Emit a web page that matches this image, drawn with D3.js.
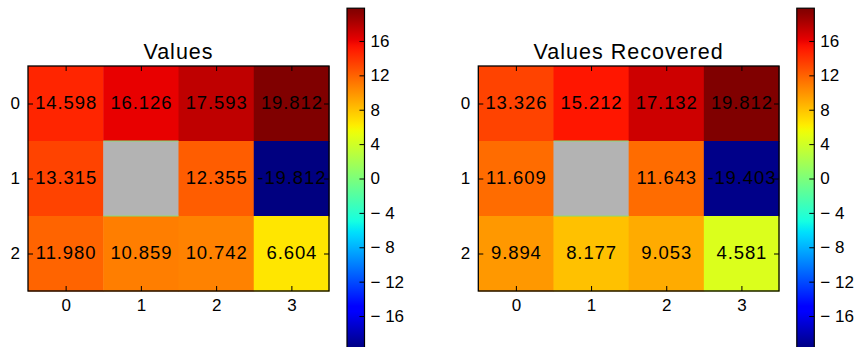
<!DOCTYPE html>
<html>
<head>
<meta charset="utf-8">
<script src="https://cdn.jsdelivr.net/npm/d3@7"></script>
<style>
  html, body { margin: 0; padding: 0; background: #fff; }
  svg { display: block; font-family: "Liberation Sans", Arial, sans-serif; }
</style>
</head>
<body>
<svg id="chart" width="857" height="347"></svg>
<script>
// Grid data (NaN = masked cell)
const rows = [0, 1, 2];
const cols = [0, 1, 2, 3];
const valuesRow0 = [14.598, 16.126, 17.593, 19.812];
const valuesRow1 = [13.315, NaN, 12.355, -19.812];
const valuesRow2 = [11.980, 10.859, 10.742, 6.604];
const recoveredRow0 = [13.326, 15.212, 17.132, 19.812];
const recoveredRow1 = [11.609, NaN, 11.643, -19.403];
const recoveredRow2 = [9.894, 8.177, 9.053, 4.581];
const titles = ["Values", "Values Recovered"];
const colorTicks = [-16, -12, -8, -4, 0, 4, 8, 12, 16];
const vmin = -19.812, vmax = 19.812;

const panels = [
  { title: titles[0], grid: [valuesRow0, valuesRow1, valuesRow2], x0: 28, x1: 329, cb: 347 },
  { title: titles[1], grid: [recoveredRow0, recoveredRow1, recoveredRow2], x0: 478.3, x1: 779, cb: 796.8 }
];

// matplotlib "jet" segment data
const jetR = [[0, 0], [0.35, 0], [0.66, 1], [0.89, 1], [1, 0.5]];
const jetG = [[0, 0], [0.125, 0], [0.375, 1], [0.64, 1], [0.91, 0], [1, 0]];
const jetB = [[0, 0.5], [0.11, 1], [0.34, 1], [0.65, 0], [1, 0]];
const seg = s => d3.scaleLinear().domain(s.map(p => p[0])).range(s.map(p => p[1])).clamp(true);
const sR = seg(jetR), sG = seg(jetG), sB = seg(jetB);
function jet(t) {
  t = Math.max(0, Math.min(1, t));
  t = Math.min(255, Math.floor(t * 256)) / 255; // 256-level lookup table
  return d3.rgb(Math.round(sR(t) * 255), Math.round(sG(t) * 255), Math.round(sB(t) * 255)).formatHex();
}
const norm = d3.scaleLinear().domain([vmin, vmax]).range([0, 1]);
const color = v => jet(norm(v));

const svg = d3.select("#chart");
const yTop = 66, yBot = 291;
const defs = svg.append("defs");

panels.forEach((p, i) => {
  const g = svg.append("g");
  const x = d3.scaleBand().domain(cols).range([p.x0, p.x1]);
  const y = d3.scaleBand().domain(rows).range([yTop, yBot]);

  const cells = [];
  p.grid.forEach((r, ri) => r.forEach((v, ci) => cells.push({ r: ri, c: ci, v })));

  g.selectAll("rect.cell").data(cells).join("rect")
    .attr("class", "cell")
    .attr("x", d => x(d.c)).attr("y", d => y(d.r))
    .attr("width", x.bandwidth() + 0.5).attr("height", y.bandwidth() + 0.5)
    .attr("fill", d => isNaN(d.v) ? "#b3b3b3" : color(d.v));

  // thin edge lines around the masked cell
  cells.filter(d => isNaN(d.v)).forEach(d => {
    [y(d.r), y(d.r) + y.bandwidth()].forEach(yy => {
      g.append("line")
        .attr("x1", x(d.c)).attr("x2", x(d.c) + x.bandwidth())
        .attr("y1", yy).attr("y2", yy)
        .attr("stroke", "#86dc72").attr("stroke-width", 1);
    });
  });

  g.selectAll("text.val").data(cells.filter(d => !isNaN(d.v))).join("text")
    .attr("class", "val")
    .attr("x", d => x(d.c) + x.bandwidth() / 2 + 0.5)
    .attr("y", d => y(d.r) + y.bandwidth() / 2 + 5)
    .attr("text-anchor", "middle")
    .attr("font-size", 18.5).attr("letter-spacing", 0.9)
    .attr("fill", "#000")
    .text(d => d.v.toFixed(3));

  // frame
  g.append("rect")
    .attr("x", p.x0).attr("y", yTop).attr("width", p.x1 - p.x0).attr("height", yBot - yTop)
    .attr("fill", "none").attr("stroke", "#000").attr("stroke-width", 1.3);

  const styleAxis = (sel, fs) => {
    sel.attr("font-size", null).attr("font-family", null);
    sel.select(".domain").remove();
    sel.selectAll(".tick line").attr("stroke", "#000").attr("stroke-width", 1);
    sel.selectAll(".tick text").attr("fill", "#000").style("font-size", fs + "px")
      .style("font-family", "'Liberation Sans', Arial, sans-serif");
  };
  const xs = d3.scalePoint().domain(cols).range([x(0) + x.bandwidth() / 2, x(3) + x.bandwidth() / 2]);
  const ys = d3.scalePoint().domain(rows).range([y(0) + y.bandwidth() / 2, y(2) + y.bandwidth() / 2]);

  g.append("g").attr("transform", `translate(0,${yBot})`)
    .call(d3.axisBottom(xs).tickSizeInner(-5).tickSizeOuter(0).tickPadding(8.2)).call(styleAxis, 17);
  g.append("g").attr("transform", `translate(0,${yTop})`)
    .call(d3.axisTop(xs).tickSizeInner(-5).tickSizeOuter(0).tickFormat("")).call(styleAxis, 17);
  g.append("g").attr("transform", `translate(${p.x0},0)`)
    .call(d3.axisLeft(ys).tickSizeInner(-5).tickSizeOuter(0).tickPadding(8)).call(styleAxis, 17);
  g.append("g").attr("transform", `translate(${p.x1},0)`)
    .call(d3.axisRight(ys).tickSizeInner(-5).tickSizeOuter(0).tickFormat("")).call(styleAxis, 17);

  g.append("text")
    .attr("x", (p.x0 + p.x1) / 2).attr("y", 58.5)
    .attr("text-anchor", "middle").attr("font-size", 21.5).attr("letter-spacing", 1)
    .attr("fill", "#000").text(p.title);

  // colorbar
  const cbW = 17.5;
  const cy = d3.scaleLinear().domain([vmin, vmax]).range([348.8, 8.2]);
  const gid = "jetgrad" + i;
  const grad = defs.append("linearGradient").attr("id", gid)
    .attr("x1", 0).attr("y1", 1).attr("x2", 0).attr("y2", 0);
  d3.range(0, 1.0001, 1 / 64).forEach(t => {
    grad.append("stop").attr("offset", t).attr("stop-color", jet(t));
  });
  g.append("rect")
    .attr("x", p.cb).attr("y", cy(vmax)).attr("width", cbW).attr("height", cy(vmin) - cy(vmax))
    .attr("fill", `url(#${gid})`).attr("stroke", "#000").attr("stroke-width", 1.2);
  g.append("g").attr("transform", `translate(${p.cb + cbW},0)`)
    .call(d3.axisRight(cy).tickValues(colorTicks).tickSizeInner(-5).tickSizeOuter(0).tickPadding(6)
      .tickFormat(d => d < 0 ? "\u2212 " + Math.abs(d) : String(d)))
    .call(styleAxis, 17);
});
</script>
</body>
</html>
